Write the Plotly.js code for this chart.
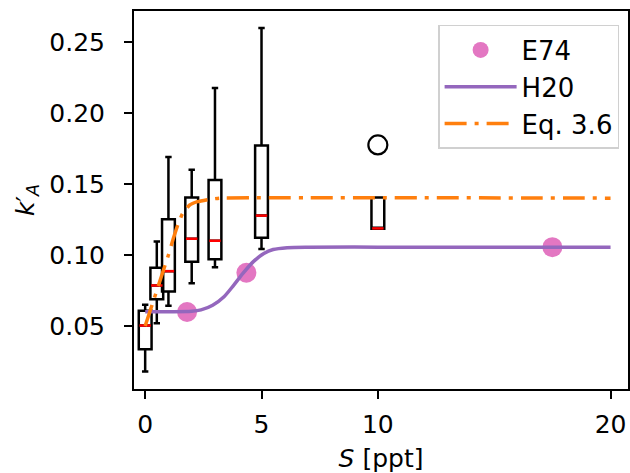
<!DOCTYPE html>
<html>
<head>
<meta charset="utf-8">
<script src="https://cdn.plot.ly/plotly-3.0.1.min.js"></script>
<style>html,body{margin:0;padding:0;background:#fff;}#chart{width:630px;height:473px;}</style>
</head>
<body>
<div id="chart"></div>
<script>
// Box plot statistics (salinity groups)
const boxPos  = [0, 0.5, 1, 2, 3, 5, 10];
const boxLow  = [0.0180, 0.0519, 0.0643, 0.0800, 0.0913, 0.1042, 0.1185];
const boxQ1   = [0.0336, 0.0688, 0.0742, 0.0953, 0.0970, 0.1122, 0.1185];
const boxMed  = [0.0503, 0.0785, 0.0886, 0.1114, 0.1100, 0.1277, 0.1187];
const boxQ3   = [0.0607, 0.0910, 0.1252, 0.1405, 0.1528, 0.1770, 0.1405];
const boxHigh = [0.0650, 0.1095, 0.1690, 0.1600, 0.2175, 0.2599, 0.1405];
const outX = [10];
const outY = [0.1775];

// E74 observations
const e74S = [1.8, 4.35, 17.5];
const e74K = [0.0598, 0.0875, 0.1055];

// H20 curve
const h20S = [0, 1, 2, 2.4, 2.9, 3.4, 3.8, 4.2, 4.65, 5.1, 5.5, 6.1, 7, 10, 20];
const h20K = [0.0600, 0.0600, 0.0603, 0.0613, 0.0646, 0.0708, 0.0786, 0.0870, 0.0953, 0.1010, 0.1038, 0.1051, 0.1055, 0.1055, 0.1055];

// Eq. 3.6 curve
const eqS = [0, 0.2, 0.4, 0.6, 0.8, 1.0, 1.2, 1.4, 1.6, 1.9, 2.25, 2.7, 3.2, 20];
const eqK = [0.050, 0.060, 0.070, 0.080, 0.090, 0.100, 0.111, 0.121, 0.129, 0.135, 0.1375, 0.139, 0.140, 0.140];

const xTicks = [0, 5, 10, 20];
const yTicks = [0.05, 0.10, 0.15, 0.20, 0.25];

const boxWidth = 0.55;
const medX = [], medY = [];
boxPos.forEach((p, i) => {
  medX.push(p - boxWidth / 2 + 0.03, p + boxWidth / 2 - 0.03, null);
  medY.push(boxMed[i], boxMed[i], null);
});

const traces = [
  {
    type: 'box', x: boxPos, q1: boxQ1, median: boxMed, q3: boxQ3,
    lowerfence: boxLow, upperfence: boxHigh, width: boxWidth,
    whiskerwidth: 0.5, boxpoints: false,
    line: {color: 'black', width: 2.5}, fillcolor: 'rgba(0,0,0,0)',
    showlegend: false, hoverinfo: 'skip'
  },
  {
    type: 'scatter', mode: 'lines', x: medX, y: medY,
    line: {color: '#ff0000', width: 2.5}, showlegend: false, hoverinfo: 'skip'
  },
  {
    type: 'scatter', mode: 'markers', x: e74S, y: e74K, name: 'E74',
    marker: {color: '#e377c2', size: 20}
  },
  {
    type: 'scatter', mode: 'lines', x: h20S, y: h20K, name: 'H20',
    line: {color: '#9467bd', width: 3.5, shape: 'spline', smoothing: 0.8}
  },
  {
    type: 'scatter', mode: 'lines', x: eqS, y: eqK, name: 'Eq. 3.6',
    line: {color: '#ff7f0e', width: 3.5, dash: '22px,8px,4px,8px', shape: 'spline', smoothing: 0.4}
  },
  {
    type: 'scatter', mode: 'markers', x: outX, y: outY, showlegend: false,
    marker: {symbol: 'circle-open', color: 'black', size: 19, line: {width: 2.2}}
  }
];

const layout = {
  width: 630, height: 473,
  margin: {l: 134, r: 2, t: 11, b: 84},
  paper_bgcolor: '#fff', plot_bgcolor: '#fff',
  font: {family: 'DejaVu Sans', size: 25, color: 'black'},
  showlegend: true,
  boxmode: 'overlay',
  xaxis: {
    range: [-0.48, 20.75], tickvals: xTicks, ticktext: xTicks.map(String),
    ticks: 'outside', ticklen: 8, tickwidth: 2, tickcolor: 'black', ticklabelstandoff: 4,
    showline: true, linewidth: 2, linecolor: 'black', mirror: true,
    showgrid: false, zeroline: false,
    title: {text: '<i>S</i> [ppt]', standoff: 12, font: {size: 25}}
  },
  yaxis: {
    range: [0.0056, 0.2718], tickvals: yTicks, ticktext: yTicks.map(v => v.toFixed(2)),
    ticks: 'outside', ticklen: 8, tickwidth: 2, tickcolor: 'black', ticklabelstandoff: 14,
    showline: true, linewidth: 2, linecolor: 'black', mirror: true,
    showgrid: false, zeroline: false,
    title: {text: '<i>k</i>′<sub><i>A</i></sub>', standoff: 8, font: {size: 25}}
  },
  legend: {
    x: 0.982, xanchor: 'right', y: 0.963, yanchor: 'top',
    bordercolor: '#d0d0d0', borderwidth: 1.5, bgcolor: 'rgba(255,255,255,0.8)',
    font: {size: 26}, itemwidth: 72, tracegroupgap: 0
  }
};

Plotly.newPlot('chart', traces, layout, {displayModeBar: false, staticPlot: true});
</script>
</body>
</html>
